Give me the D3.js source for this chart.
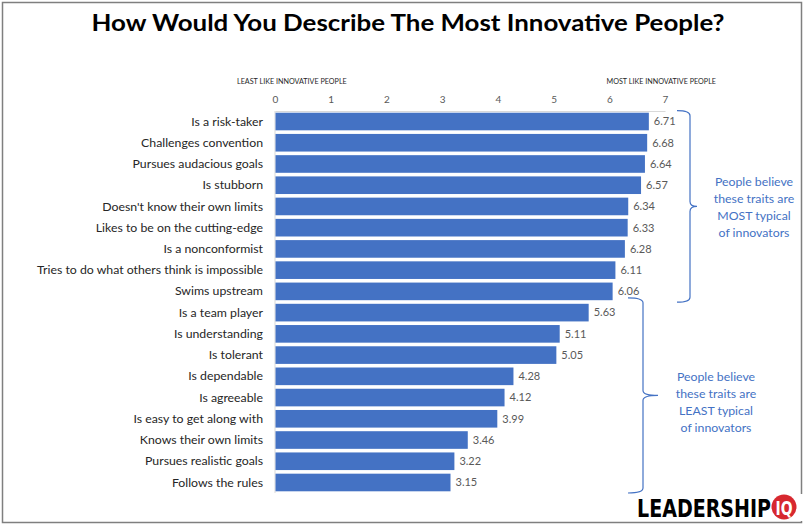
<!DOCTYPE html>
<html>
<head>
<meta charset="utf-8">
<script src="https://cdn.jsdelivr.net/npm/d3@7/dist/d3.min.js"></script>
<style>
  html, body { margin: 0; padding: 0; background: #fff; }
  svg { display: block; }
</style>
</head>
<body>
<svg id="chart" width="805" height="527"></svg>
<script>
const categories = [
  "Is a risk-taker",
  "Challenges convention",
  "Pursues audacious goals",
  "Is stubborn",
  "Doesn't know their own limits",
  "Likes to be on the cutting-edge",
  "Is a nonconformist",
  "Tries to do what others think is impossible",
  "Swims upstream",
  "Is a team player",
  "Is understanding",
  "Is tolerant",
  "Is dependable",
  "Is agreeable",
  "Is easy to get along with",
  "Knows their own limits",
  "Pursues realistic goals",
  "Follows the rules"
];
const values = [6.71, 6.68, 6.64, 6.57, 6.34, 6.33, 6.28, 6.11, 6.06, 5.63, 5.11, 5.05, 4.28, 4.12, 3.99, 3.46, 3.22, 3.15];
const tickValues = [0, 1, 2, 3, 4, 5, 6, 7];
const titleText = "How Would You Describe The Most Innovative People?";
const axisLeftLabel = "LEAST LIKE INNOVATIVE PEOPLE";
const axisRightLabel = "MOST LIKE INNOVATIVE PEOPLE";
const mostNote = ["People believe", "these traits are", "MOST typical", "of innovators"];
const leastNote = ["People believe", "these traits are", "LEAST typical", "of innovators"];
const mostGroup = categories.slice(0, 9);
const leastGroup = categories.slice(9);

const svg = d3.select("#chart");
const font = "Lato, 'Open Sans', sans-serif";
const blue = "#4472C4";

// outer frame
svg.append("rect").attr("x", 2.5).attr("y", 2.5).attr("width", 799).attr("height", 520)
  .attr("fill", "none").attr("stroke", "#7f7f7f").attr("stroke-width", 1.5);

// title
svg.append("text").attr("x", 408).attr("y", 31).attr("text-anchor", "middle")
  .attr("font-family", font).attr("font-weight", "bold").attr("font-size", 23.5)
  .attr("fill", "#000").attr("textLength", 633).attr("lengthAdjust", "spacingAndGlyphs")
  .text(titleText);

const x = d3.scaleLinear().domain([0, 7]).range([275, 665]);
const y = d3.scaleBand().domain(categories).range([111, 493]).paddingInner(0.17).paddingOuter(0.08);

// axis labels
svg.append("text").attr("x", 237).attr("y", 84).attr("font-family", font).attr("font-size", 7.2)
  .attr("fill", "#262626").text(axisLeftLabel);
svg.append("text").attr("x", 716).attr("y", 84).attr("text-anchor", "end").attr("font-family", font)
  .attr("font-size", 7.2).attr("fill", "#262626").text(axisRightLabel);

// top axis
const gx = svg.append("g").attr("transform", "translate(0,111)")
  .call(d3.axisTop(x).tickValues(tickValues).tickSize(0).tickPadding(8).tickFormat(d3.format("d")));
gx.select(".domain").attr("stroke", "#d9d9d9");
gx.selectAll("text").attr("font-family", font).attr("font-size", 10).attr("fill", "#595959");

// left axis line
svg.append("line").attr("x1", 275).attr("x2", 275).attr("y1", 111).attr("y2", 493)
  .attr("stroke", "#d9d9d9");

// bars
svg.append("g").selectAll("rect").data(values).join("rect")
  .attr("x", x(0) + 0.5)
  .attr("y", (d, i) => y(categories[i]))
  .attr("width", d => x(d) - x(0) - 0.5)
  .attr("height", y.bandwidth())
  .attr("fill", blue);

// value labels
svg.append("g").selectAll("text").data(values).join("text")
  .attr("x", d => x(d) + 5)
  .attr("y", (d, i) => y(categories[i]) + y.bandwidth() / 2)
  .attr("dy", "0.35em")
  .attr("font-family", font).attr("font-size", 11).attr("fill", "#595959")
  .text(d => d3.format(".2f")(d));

// category labels
svg.append("g").selectAll("text").data(categories).join("text")
  .attr("x", 263)
  .attr("y", d => y(d) + y.bandwidth() / 2)
  .attr("dy", "0.33em")
  .attr("text-anchor", "end")
  .attr("font-family", font).attr("font-size", 12.3).attr("fill", "#262626")
  .text(d => d);

// brace helper (right-pointing curly brace)
function brace(xl, xv, xt, y0, y1) {
  const ym = (y0 + y1) / 2;
  const r = 5;
  return `M${xl},${y0} Q${xv},${y0} ${xv},${y0 + r} L${xv},${ym - r} Q${xv},${ym} ${xt},${ym}` +
         ` Q${xv},${ym} ${xv},${ym + r} L${xv},${y1 - r} Q${xv},${y1} ${xl},${y1}`;
}
const b1top = y(mostGroup[0]) - 2, b1bot = y(mostGroup[mostGroup.length - 1]) + y.bandwidth() + 2;
const b2top = y(leastGroup[0]) - 6, b2bot = 493;
svg.append("path").attr("d", brace(677, 690, 697, b1top, b1bot))
  .attr("fill", "none").attr("stroke", blue).attr("stroke-width", 1.2);
svg.append("path").attr("d", brace(628, 643, 658, b2top, b2bot))
  .attr("fill", "none").attr("stroke", blue).attr("stroke-width", 1.2);

// notes
svg.append("g").selectAll("text").data(mostNote).join("text")
  .attr("x", 754).attr("y", (d, i) => 186 + i * 17)
  .attr("text-anchor", "middle").attr("font-family", font).attr("font-size", 12.3)
  .attr("fill", blue).text(d => d);
svg.append("g").selectAll("text").data(leastNote).join("text")
  .attr("x", 716).attr("y", (d, i) => 381 + i * 17)
  .attr("text-anchor", "middle").attr("font-family", font).attr("font-size", 12.3)
  .attr("fill", blue).text(d => d);

// logo
const logoFont = "'Liberation Sans Narrow', 'DejaVu Sans Condensed', sans-serif";
svg.append("rect").attr("x", 630).attr("y", 494).attr("width", 175).attr("height", 27).attr("fill", "#fff");
const lt = svg.append("text").attr("x", 0).attr("y", 0)
  .attr("transform", "translate(637,517) scale(1,1.2)")
  .attr("font-family", logoFont).attr("font-weight", "bold").attr("font-size", 26)
  .attr("fill", "#000").text("LEADERSHIP");
// fit natural width to the logo box
const natural = lt.node().getComputedTextLength();
lt.attr("font-size", Math.min(28, 26 * 134 / natural));
svg.append("circle").attr("cx", 784).attr("cy", 507).attr("r", 12.5).attr("fill", "#d7282f");
const iq = svg.append("text").attr("x", 0).attr("y", 0).attr("text-anchor", "middle")
  .attr("transform", "translate(784,514.5) scale(1,1.25)")
  .attr("font-family", logoFont).attr("font-weight", "bold").attr("font-size", 18)
  .attr("fill", "#fff").text("IQ");
const iqw = iq.node().getComputedTextLength();
iq.attr("font-size", Math.min(19, 18 * 17 / iqw));
</script>
</body>
</html>
